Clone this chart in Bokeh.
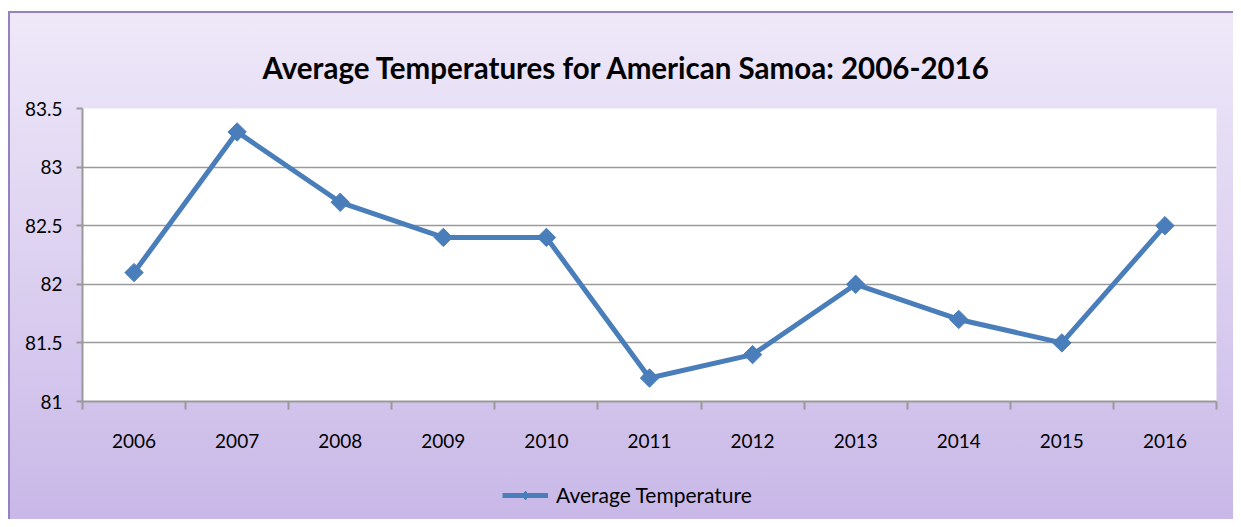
import math
from bokeh.plotting import figure
from bokeh.layouts import column
from bokeh.models import FixedTicker, Range1d, Legend, LegendItem
from bokeh.embed import file_html
from bokeh.resources import INLINE

years = [2006, 2007, 2008, 2009, 2010, 2011, 2012, 2013, 2014, 2015, 2016]
temps = [82.1, 83.3, 82.7, 82.4, 82.4, 81.2, 81.4, 82.0, 81.7, 81.5, 82.5]
y_ticks = [81, 81.5, 82, 82.5, 83, 83.5]
y_labels = {81: "81", 81.5: "81.5", 82: "82", 82.5: "82.5", 83: "83", 83.5: "83.5"}
series_name = "Average Temperature"
title_text = "Average Temperatures for American Samoa: 2006-2016"

FONT = "Lato"
BLUE = "#4A7EBB"
GRID = "#9A9A9A"
BORDER = "#9580C0"
W = 1233
H_MAIN = 470
H_LEG = 49

p = figure(width=W, height=H_MAIN, output_backend="svg", toolbar_location=None,
           x_range=Range1d(years[0] - 0.5, years[-1] + 0.5),
           y_range=Range1d(y_ticks[0], y_ticks[-1]),
           min_border_left=82, min_border_right=17, min_border_top=108, min_border_bottom=69)
p.border_fill_color = None
p.background_fill_color = "white"
p.outline_line_color = None

p.title.text = title_text
p.title.text_font = FONT
p.title.text_font_size = "29.5px"
p.title.text_font_style = "bold"
p.title.align = "left"
p.title.offset = 180
p.title.text_color = "black"
p.title.standoff = 48

# x axis: labels at centers, tick marks between categories
boundaries = [y - 0.5 for y in years] + [years[-1] + 0.5]
p.xaxis.ticker = FixedTicker(ticks=years, minor_ticks=boundaries)
p.xaxis.major_label_overrides = {y: str(y) for y in years}
p.xaxis.major_tick_out = 0
p.xaxis.major_tick_in = 0
p.xaxis.minor_tick_out = 8
p.xaxis.minor_tick_in = 0
p.xaxis.minor_tick_line_color = GRID
p.xaxis.minor_tick_line_width = 2
p.xaxis.axis_line_color = GRID
p.xaxis.axis_line_width = 2
p.xaxis.major_label_standoff = 24
p.xaxis.major_label_text_font = FONT
p.xaxis.major_label_text_font_size = "19px"
p.xaxis.major_label_text_color = "black"

p.yaxis.ticker = FixedTicker(ticks=y_ticks)
p.yaxis.major_label_overrides = y_labels
p.yaxis.major_tick_out = 6
p.yaxis.major_tick_in = 0
p.yaxis.minor_tick_line_color = None
p.yaxis.major_tick_line_color = GRID
p.yaxis.major_tick_line_width = 2
p.yaxis.axis_line_color = GRID
p.yaxis.axis_line_width = 2
p.yaxis.major_label_standoff = 14
p.yaxis.major_label_text_font = FONT
p.yaxis.major_label_text_font_size = "19px"
p.yaxis.major_label_text_color = "black"

p.xgrid.grid_line_color = None
p.ygrid.ticker = FixedTicker(ticks=y_ticks)
p.ygrid.grid_line_color = GRID
p.ygrid.grid_line_width = 1.5

p.line(years, temps, line_color=BLUE, line_width=5)
p.scatter(years, temps, marker="square", angle=math.pi / 4, size=13,
          fill_color=BLUE, line_color=BLUE)

# legend strip below the chart (its series lie outside its own view, only the key shows)
q = figure(width=W, height=H_LEG, output_backend="svg", toolbar_location=None,
           x_axis_location=None, y_axis_location=None,
           x_range=Range1d(0, 1), y_range=Range1d(0, 1), min_border=0)
q.border_fill_color = None
q.background_fill_color = None
q.outline_line_color = None
q.grid.visible = False
lk = q.line(years, temps, line_color=BLUE, line_width=5)
mk = q.scatter(years, temps, marker="diamond", size=14,
               fill_color=BLUE, line_color=BLUE)
legend = Legend(items=[LegendItem(label=series_name, renderers=[lk, mk])],
                location=(420, 12), orientation="horizontal",
                background_fill_alpha=0, border_line_color=None,
                label_text_font=FONT, label_text_font_size="21px", label_text_color="black",
                glyph_width=46, glyph_height=22, label_standoff=8,
                padding=0, margin=0)
q.add_layout(legend, "center")

layout = column(p, q, spacing=0)
layout.styles = {
    "background":
        f"linear-gradient({BORDER},{BORDER}) 8px 11px / 2px 100% no-repeat, "
        f"linear-gradient({BORDER},{BORDER}) 8px 11px / 100% 2px no-repeat, "
        "linear-gradient(#EFE9F9, #C8B7E7) 8px 11px / 100% 100% no-repeat, white",
}

open("out.html", "w").write(file_html(layout, INLINE))
